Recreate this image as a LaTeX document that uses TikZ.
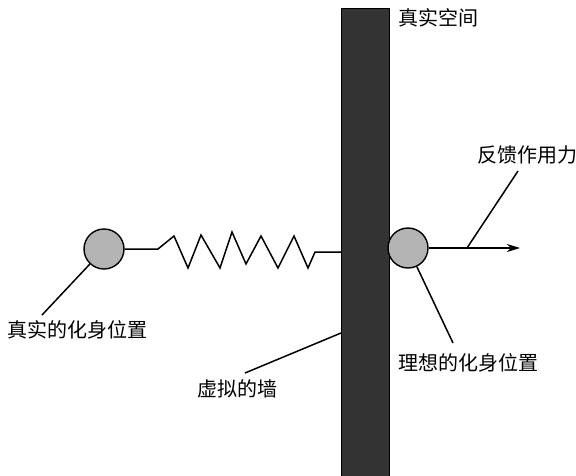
\documentclass[tikz,border=0pt]{standalone}
\usepackage{fontspec}
\newfontfamily\cjk{Noto Sans CJK SC}
\usetikzlibrary{arrows.meta,calc}
\definecolor{wallgray}{HTML}{333333}
\definecolor{ballgray}{HTML}{B4B4B4}
\tikzset{
  ball/.style={circle,draw=black,line width=1.4pt,fill=ballgray,minimum size=40pt,inner sep=0pt},
  lbl/.style={font=\cjk\fontsize{20}{20}\selectfont,inner sep=0pt},
  lead/.style={line width=1.5pt,draw=black},
}
\begin{document}
\begin{tikzpicture}[x=1pt,y=-1pt]
\useasboundingbox (0,0) rectangle (576,475);
\clip (0,0) rectangle (576,475);
% wall
\node[draw=black,line width=1.4pt,fill=wallgray,minimum width=48pt,minimum height=480pt,inner sep=0pt,anchor=north west] (wall) at (341,8) {};
% balls
\node[ball] (lb) at (104,249) {};
\node[ball] (rb) at (408,248) {};
% spring
\coordinate (sp) at (341,252);
\draw[lead,line join=miter] (lb.east) -- (158,249) -- (174,236) -- (188,268) -- (201,235) -- (220,268) -- (232,232) -- (246,264) -- (261,236) -- (278,268) -- (294,236) -- (308,268) -- (315,252) -- (sp);
% force arrow
\coordinate (tip) at (520,248);
\coordinate (fk) at (467,248);
\draw[lead,-{Stealth[length=13pt,width=8pt,inset=4pt]}] (rb.east) -- (tip);
% labels
\node[lbl,anchor=west] (t1) at (398,18) {真实空间};
\node[lbl,anchor=west] (t2) at (477,155) {反馈作用力};
\node[lbl,anchor=west] (t3) at (7,330) {真实的化身位置};
\node[lbl,anchor=west] (t4) at (197,389) {虚拟的墙};
\node[lbl,anchor=west] (t5) at (398,363) {理想的化身位置};
% leaders
\coordinate (e2) at (518,171);
\coordinate (e3) at (42,315);
\coordinate (e4a) at (341,333);
\coordinate (e4) at (245,373);
\coordinate (e5) at (453,343);
\draw[lead] (fk) -- (e2);
\draw[lead] (lb) -- (e3);
\draw[lead] (e4a) -- (e4);
\draw[lead] (rb) -- (e5);
\end{tikzpicture}
\end{document}
